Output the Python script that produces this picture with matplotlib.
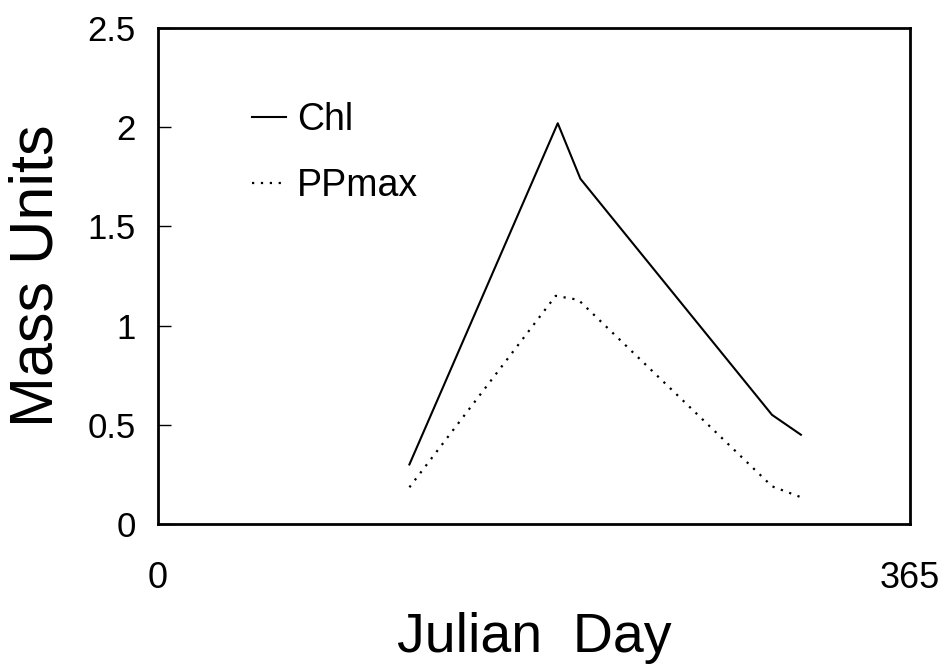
import matplotlib
matplotlib.use("Agg")
import matplotlib.pyplot as plt

plt.rcParams['font.family'] = ['Liberation Sans', 'DejaVu Sans']

# values
chl_day = [122, 194, 205, 298, 312]
chl_val = [0.30, 2.02, 1.74, 0.55, 0.45]

pp_day = [122, 193, 204, 298, 312]
pp_val = [0.185, 1.15, 1.13, 0.19, 0.135]

yticks = [0, 0.5, 1, 1.5, 2, 2.5]
ytick_labels = ['0', '0.5', '1', '1.5', '2', '2.5']
xticks = [0, 365]

fig = plt.figure(figsize=(9.48, 6.67), dpi=100)
ax = fig.add_axes([0.1667, 0.2144, 0.7933, 0.7436])

ax.plot(chl_day, chl_val, color='black', lw=1.5, label='Chl')
ax.plot(pp_day, pp_val, color='black', lw=1.6, linestyle=(0, (1, 3)), label='PPmax')

ax.set_xlim(0, 365)
ax.set_ylim(0, 2.5)
ax.set_yticks(yticks)
ax.set_yticklabels(ytick_labels)
ax.set_xticks(xticks)
ax.set_xticklabels([str(t) for t in xticks])

for s in ax.spines.values():
    s.set_linewidth(2)

ax.tick_params(axis='y', direction='in', length=9, width=1, labelsize=25, pad=16)
ax.tick_params(axis='x', length=0, labelsize=26, pad=27)

ax.set_xlabel('Julian  Day', fontsize=40, labelpad=11)
ax.set_ylabel('Mass Units', fontsize=44, labelpad=16)

ax.legend(loc='upper left', bbox_to_anchor=(0.125, 0.85), frameon=False,
          fontsize=27, handlelength=0.9, handletextpad=0.3,
          labelspacing=0.8, borderpad=0, borderaxespad=0)

fig.savefig('out.png', dpi=100, facecolor='white')
